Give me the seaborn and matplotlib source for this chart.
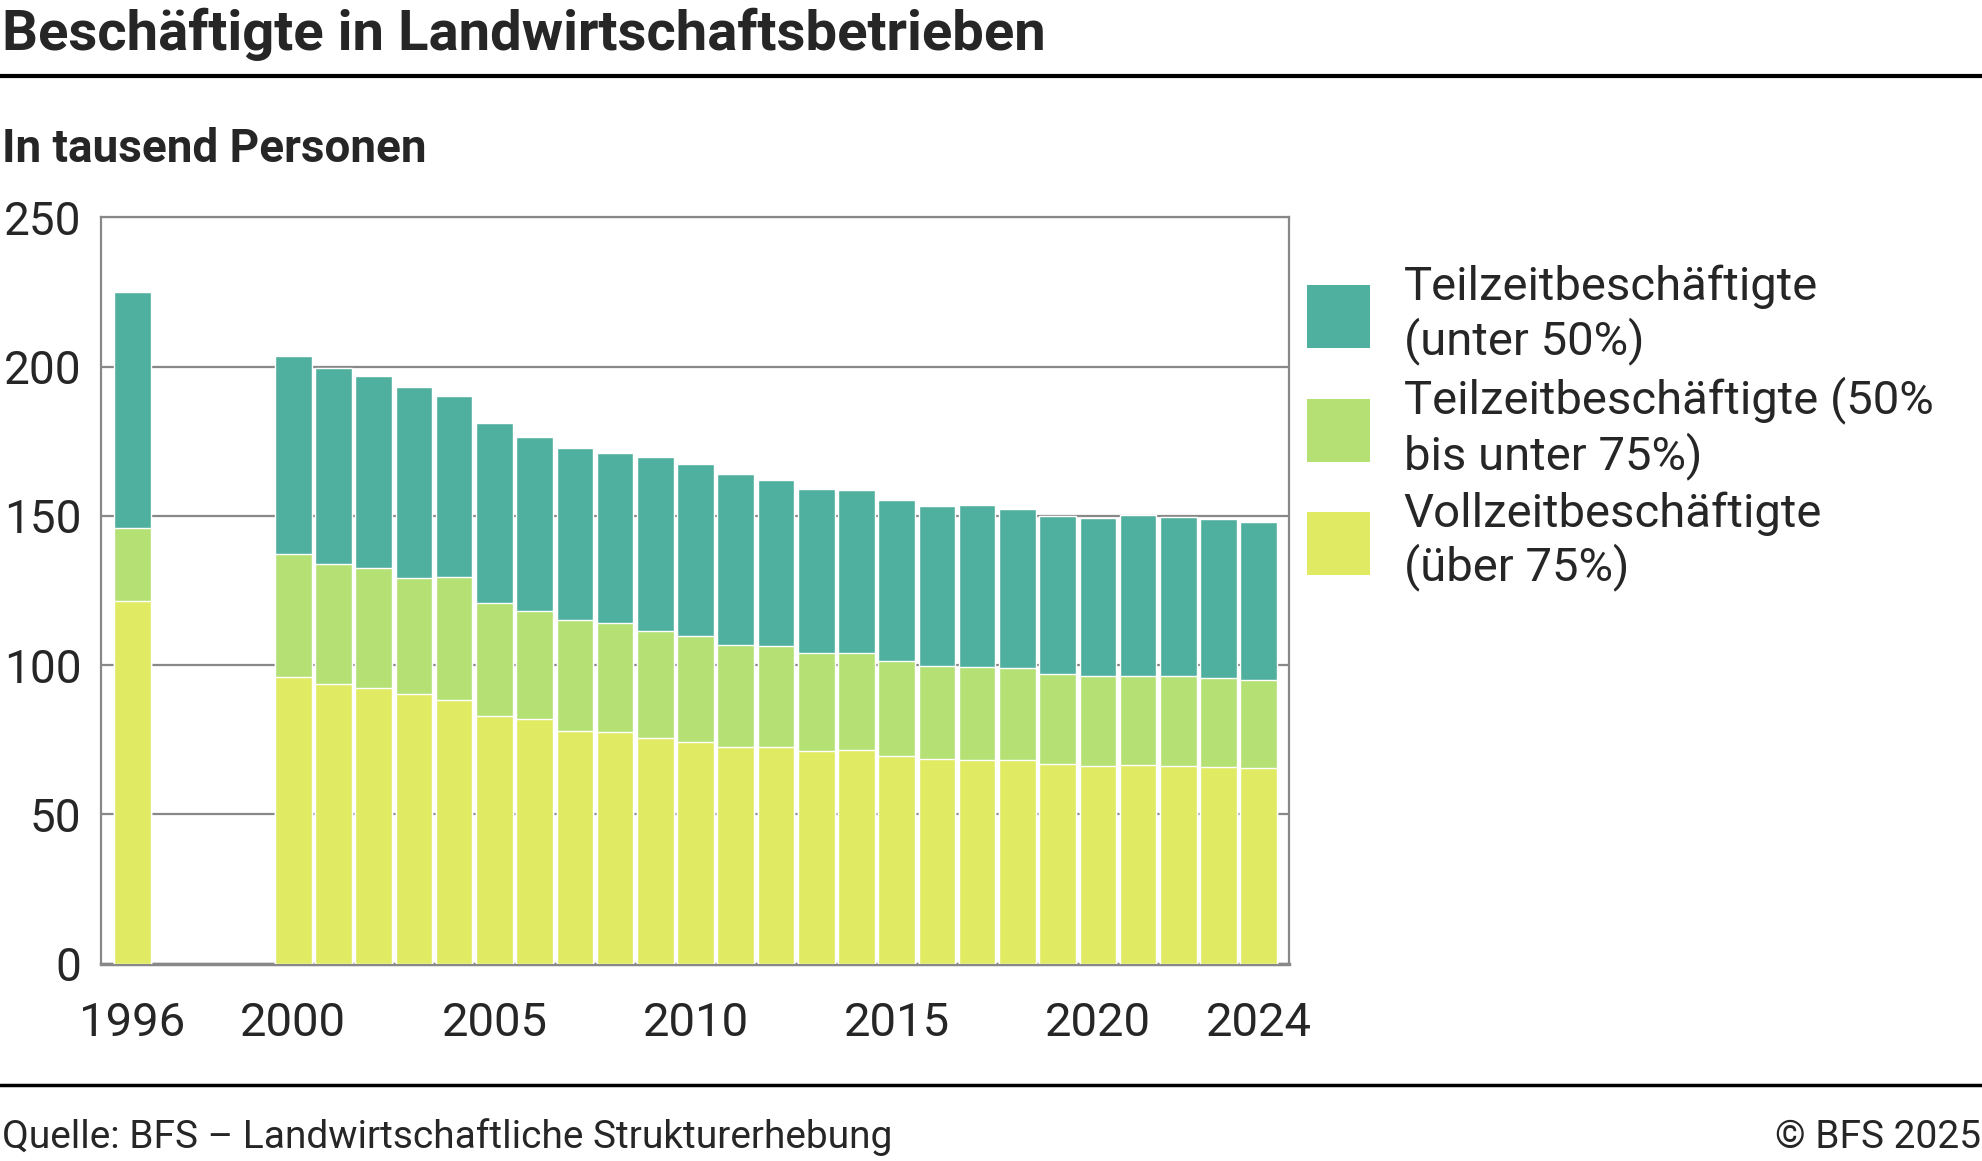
import numpy as np
import pandas as pd
import matplotlib
matplotlib.use("Agg")
import matplotlib.pyplot as plt
from matplotlib.lines import Line2D
from matplotlib.patches import Patch
import seaborn as sns

# data (in thousand persons)
years = [1996] + list(range(2000, 2025))
voll = [121.5, 96.0, 93.6, 92.2, 90.3, 88.2, 82.9, 81.8, 77.8, 77.5, 75.6, 74.2,
        72.5, 72.5, 71.1, 71.5, 69.4, 68.5, 68.1, 68.1, 66.8, 66.1, 66.4, 66.1, 65.8, 65.4]
teil_50_75 = [24.3, 41.1, 40.2, 40.3, 38.9, 41.2, 37.8, 36.5, 37.2, 36.5, 35.8, 35.5,
              34.4, 33.8, 32.9, 32.5, 31.9, 31.1, 31.2, 30.8, 30.4, 30.2, 29.9, 30.2, 29.8, 29.5]
teil_u50 = [79.1, 66.4, 65.9, 64.3, 63.9, 60.7, 60.3, 58.1, 57.6, 57.2, 58.2, 57.7,
            57.0, 55.7, 54.9, 54.6, 54.1, 53.6, 54.3, 53.3, 52.7, 53.0, 54.1, 53.4, 53.3, 53.0]
labels = ["Teilzeitbeschäftigte\n(unter 50%)",
          "Teilzeitbeschäftigte (50%\nbis unter 75%)",
          "Vollzeitbeschäftigte\n(über 75%)"]
colors = ["#50b0a0", "#b4e074", "#e0ea63"]
tick_years = [1996, 2000, 2005, 2010, 2015, 2020, 2024]

df = pd.DataFrame({"year": [str(y) for y in years], "voll": voll,
                   "teil_50_75": teil_50_75, "teil_u50": teil_u50})
df["mid"] = df["voll"] + df["teil_50_75"]
df["total"] = df["mid"] + df["teil_u50"]
order = [str(y) for y in range(1996, 2025)]

sns.set_style("white")
plt.rcParams["font.family"] = ["Roboto", "DejaVu Sans"]

fig = plt.figure(figsize=(19.83, 11.61), dpi=100)
ax = fig.add_axes([0.0509, 0.170, 0.5991, 0.6427])

for col, c in zip(["total", "mid", "voll"], colors):
    sns.barplot(data=df, x="year", y=col, order=order, color=c, width=0.91,
                saturation=1, ax=ax, zorder=3)

ax.set_xlim(-0.78, 28.75)
ax.set_ylim(0, 250)
ax.set_yticks(range(0, 251, 50))
ax.set_xticks([order.index(str(y)) for y in tick_years])
ax.set_xticklabels([str(y) for y in tick_years])
ax.set_xlabel("")
ax.set_ylabel("")
ax.yaxis.grid(True, color="#888888", lw=1.6, zorder=0)
ax.set_axisbelow(True)
for s in ax.spines.values():
    s.set_visible(True)
    s.set_color("#888888")
    s.set_linewidth(1.6)
ax.spines["bottom"].set_linewidth(2.5)
ax.tick_params(axis="y", length=10, width=1.6, color="#888888", labelsize=33, pad=4)
ax.tick_params(axis="x", length=0, labelsize=34, pad=27)

handles = [Patch(facecolor=c, edgecolor="none") for c in colors]
fig.legend(handles, labels, loc="upper left", bbox_to_anchor=(0.659, 0.772),
           frameon=False, fontsize=34, handlelength=1.33, handleheight=1.67,
           handletextpad=0.72, labelspacing=0.25, borderaxespad=0, borderpad=0)

fig.text(0.001, 0.9707, "Beschäftigte in Landwirtschaftsbetrieben", fontsize=40.5,
         fontweight="bold", va="center", ha="left")
fig.text(0.001, 0.872, "In tausend Personen", fontsize=33, fontweight="bold",
         va="center", ha="left")
fig.text(0.001, 0.0205, "Quelle: BFS – Landwirtschaftliche Strukturerhebung",
         fontsize=28, va="center", ha="left")
fig.text(0.999, 0.0205, "© BFS 2025", fontsize=28, va="center", ha="right")
fig.add_artist(Line2D([0, 1], [0.9345, 0.9345], transform=fig.transFigure,
                      color="black", lw=3))
fig.add_artist(Line2D([0, 1], [0.0654, 0.0654], transform=fig.transFigure,
                      color="black", lw=2.5))

fig.savefig("out.png", dpi=100)
